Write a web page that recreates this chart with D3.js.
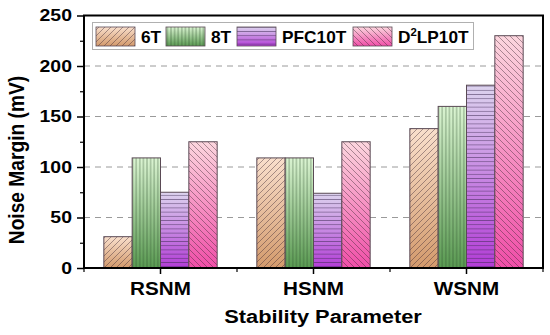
<!DOCTYPE html>
<html>
<head>
<meta charset="utf-8">
<script src="https://cdn.jsdelivr.net/npm/d3@7"></script>
<style>
html,body{margin:0;padding:0;background:#fff;}
svg{display:block;font-family:"Liberation Sans",Arial,sans-serif;font-weight:bold;}
</style>
</head>
<body>
<svg id="chart" width="550" height="335"></svg>
<script>
const categories = ["RSNM", "HSNM", "WSNM"];
const seriesNames = ["6T", "8T", "PFC10T", "D2LP10T"];
const v6T = [31, 109, 138];
const v8T = [109, 109, 160];
const vPFC10T = [75, 74, 181];
const vD2LP10T = [125, 125, 230];
const yTicks = [0, 50, 100, 150, 200, 250];
const yMinorTicks = [25, 75, 125, 175, 225];
const gridValues = [50, 100, 150, 200];

const seriesValues = [v6T, v8T, vPFC10T, vD2LP10T];
const styles = [
  {top:"#f9dfcc", bot:"#d39a6c", hatch:"diag1"},
  {top:"#dcf5d3", bot:"#5a9a52", hatch:"vert"},
  {top:"#dcd3ee", bot:"#b23cd6", hatch:"horiz"},
  {top:"#fcd6de", bot:"#f04ea8", hatch:"diag2"}
];
const SX = 1.18; // horizontal stretch of glyphs

const svg = d3.select("#chart");
const M = {left:84, right:543, top:15.5, bottom:268};

const x = d3.scaleBand().domain(categories).range([M.left, M.right]).padding(0);
const inner = d3.scaleBand().domain(seriesNames).range([0, x.bandwidth()]).paddingInner(0).paddingOuter(0.7);
const y = d3.scaleLinear().domain([0, 250]).range([M.bottom, M.top]);

const defs = svg.append("defs");
styles.forEach((s, i) => {
  const g = defs.append("linearGradient").attr("id", "grad" + i)
    .attr("x1", 0).attr("y1", 0).attr("x2", 0).attr("y2", 1);
  g.append("stop").attr("offset", "0%").attr("stop-color", s.top);
  g.append("stop").attr("offset", "100%").attr("stop-color", s.bot);
  const p = defs.append("pattern").attr("id", "hatch" + i).attr("patternUnits", "userSpaceOnUse");
  const col = "rgba(60,40,50,0.55)";
  if (s.hatch === "diag1") {
    p.attr("width", 6).attr("height", 6);
    p.append("path").attr("d", "M-1,1 l2,-2 M0,6 l6,-6 M5,7 l2,-2").attr("stroke", col).attr("stroke-width", 0.8);
  } else if (s.hatch === "diag2") {
    p.attr("width", 6).attr("height", 6);
    p.append("path").attr("d", "M-1,5 l2,2 M0,0 l6,6 M5,-1 l2,2").attr("stroke", col).attr("stroke-width", 0.8);
  } else if (s.hatch === "vert") {
    p.attr("width", 3.6).attr("height", 4);
    p.append("path").attr("d", "M1.8,0 v4").attr("stroke", "rgba(40,70,40,0.6)").attr("stroke-width", 0.8);
  } else {
    p.attr("width", 4).attr("height", 4.2);
    p.append("path").attr("d", "M0,2.1 h4").attr("stroke", "rgba(60,40,80,0.6)").attr("stroke-width", 0.8);
  }
});

// gridlines
svg.append("g").selectAll("line").data(gridValues).join("line")
  .attr("x1", M.left).attr("x2", M.right)
  .attr("y1", d => y(d)).attr("y2", d => y(d))
  .attr("stroke", "#9a9a9a").attr("stroke-width", 1).attr("stroke-dasharray", "6,5");

// bars
const groups = svg.append("g").selectAll("g").data(categories).join("g")
  .attr("transform", d => `translate(${x(d)},0)`);
seriesNames.forEach((name, si) => {
  groups.each(function(c, ci) {
    const g = d3.select(this);
    const v = seriesValues[si][ci];
    const bx = inner(name), bw = inner.bandwidth();
    g.append("rect").attr("x", bx).attr("y", y(v)).attr("width", bw).attr("height", y(0) - y(v))
      .attr("fill", `url(#grad${si})`);
    g.append("rect").attr("x", bx).attr("y", y(v)).attr("width", bw).attr("height", y(0) - y(v))
      .attr("fill", `url(#hatch${si})`).attr("stroke", "#5a4a55").attr("stroke-width", 1);
  });
});

// frame
svg.append("rect").attr("x", M.left).attr("y", M.top).attr("width", M.right - M.left).attr("height", M.bottom - M.top)
  .attr("fill", "none").attr("stroke", "#000").attr("stroke-width", 2);

// y axis ticks
const yAxis = svg.append("g").attr("transform", `translate(${M.left},0)`)
  .call(d3.axisLeft(y).tickValues(yTicks).tickSize(7).tickFormat(""));
yAxis.select(".domain").remove();
yAxis.selectAll(".tick line").attr("stroke-width", 1.5);
const yMinor = svg.append("g").attr("transform", `translate(${M.left},0)`)
  .call(d3.axisLeft(y).tickValues(yMinorTicks).tickSize(4).tickFormat(""));
yMinor.select(".domain").remove();
yMinor.selectAll(".tick line").attr("stroke-width", 1.2);
svg.append("g").selectAll("text").data(yTicks).join("text")
  .attr("transform", d => `translate(${M.left - 12},${y(d)}) scale(${SX},1)`)
  .attr("text-anchor", "end").attr("dy", "0.36em").attr("font-size", 16.5).text(d => d);

// x axis ticks
const xAxis = svg.append("g").attr("transform", `translate(0,${M.bottom})`)
  .call(d3.axisBottom(x).tickSize(6).tickFormat(""));
xAxis.select(".domain").remove();
xAxis.selectAll(".tick line").attr("stroke-width", 1.5);
const xb = [M.left].concat(categories.map(c => x(c) + x.bandwidth()));
svg.append("g").selectAll("line").data(xb).join("line")
  .attr("x1", d => d).attr("x2", d => d).attr("y1", M.bottom).attr("y2", M.bottom + 4)
  .attr("stroke", "#000").attr("stroke-width", 1.2);
svg.append("g").selectAll("text").data(categories).join("text")
  .attr("transform", d => `translate(${x(d) + x.bandwidth() / 2},295) scale(${SX},1)`)
  .attr("text-anchor", "middle").attr("font-size", 17.5).text(d => d);

// axis titles
svg.append("text").attr("transform", `translate(323,323) scale(${SX},1)`).attr("text-anchor", "middle")
  .attr("font-size", 18.5).text("Stability Parameter");
svg.append("text").attr("transform", `translate(23.5,160) scale(${SX},1) rotate(-90)`).attr("text-anchor", "middle")
  .attr("font-size", 19.2).text("Noise Margin (mV)");

// legend
const lg = svg.append("g");
lg.append("rect").attr("x", 92.5).attr("y", 22.5).attr("width", 381).attr("height", 27)
  .attr("fill", "#fff").attr("stroke", "#b0b0b0").attr("stroke-width", 1);
const legX = [96, 166, 237, 353];
seriesNames.forEach((name, i) => {
  lg.append("rect").attr("x", legX[i]).attr("y", 27).attr("width", 39).attr("height", 19)
    .attr("fill", `url(#grad${i})`);
  lg.append("rect").attr("x", legX[i]).attr("y", 27).attr("width", 39).attr("height", 19)
    .attr("fill", `url(#hatch${i})`).attr("stroke", "#5a4a55").attr("stroke-width", 0.8);
  const t = lg.append("text").attr("transform", `translate(${legX[i] + 45},43) scale(1.08,1)`).attr("font-size", 16);
  if (name === "D2LP10T") {
    t.append("tspan").text("D");
    t.append("tspan").attr("font-size", 10.5).attr("dy", -7).text("2");
    t.append("tspan").attr("dy", 7).text("LP10T");
  } else {
    t.text(name);
  }
});
</script>
</body>
</html>
